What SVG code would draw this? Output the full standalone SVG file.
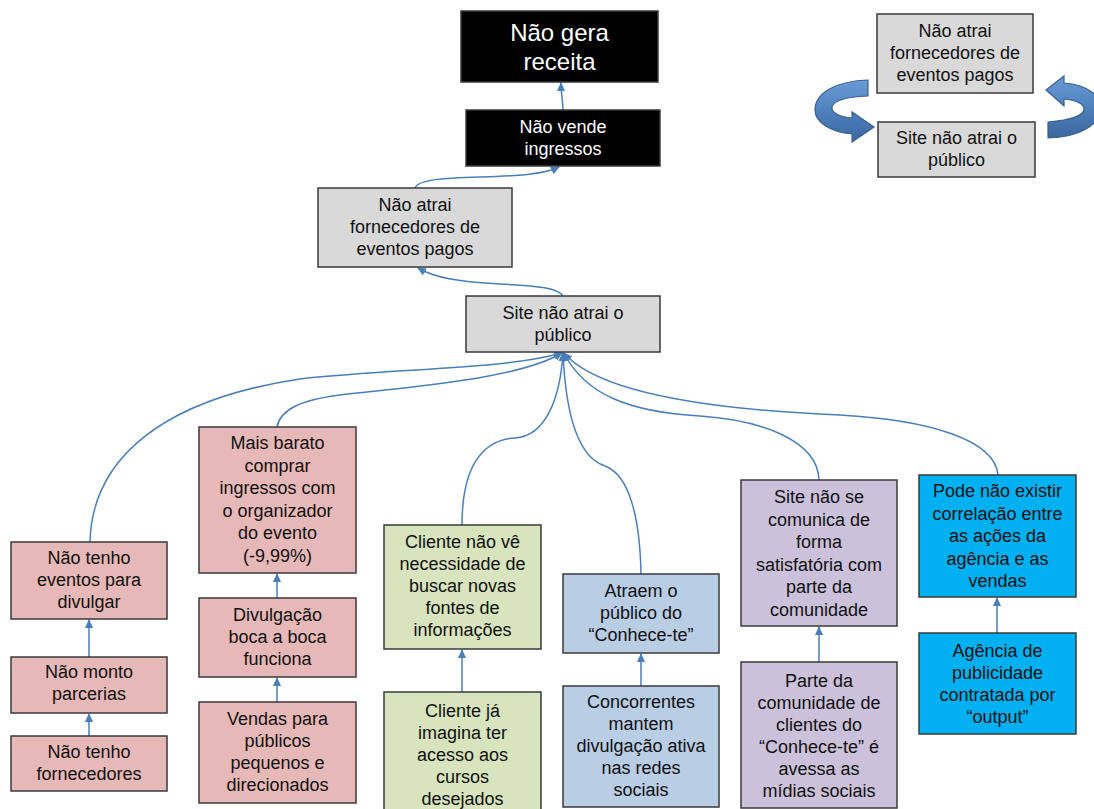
<svg xmlns="http://www.w3.org/2000/svg" width="1094" height="809" viewBox="0 0 1094 809">
<style>
.box{stroke:#3a3a3a;stroke-width:1.5}
.blk{fill:#000000}
.gray{fill:#d9d9d9}
.pink{fill:#e6b9b8}
.green{fill:#d7e4bd}
.bluegray{fill:#b9cde5}
.purple{fill:#ccc1da}
.cyan{fill:#00b0f0}
.t{font-family:"Liberation Sans",Arial,sans-serif;font-size:18px;fill:#111111;text-anchor:middle}
.tw{font-family:"Liberation Sans",Arial,sans-serif;font-size:18px;fill:#ffffff;text-anchor:middle}
.tbig{font-family:"Liberation Sans",Arial,sans-serif;font-size:24px;fill:#ffffff;text-anchor:middle}
.con{fill:none;stroke:#4a7ebb;stroke-width:1.5;marker-end:url(#ah)}
.blockarrow{fill:url(#bg);stroke:#3a5f8f;stroke-width:1.2}
</style>
<defs>
<marker id="ah" markerUnits="userSpaceOnUse" markerWidth="10" markerHeight="10" refX="8" refY="5" orient="auto">
<path d="M0,1 L9,5 L0,9 Z" fill="#4a7ebb"/>
</marker>
<linearGradient id="bg" x1="0" y1="0" x2="0" y2="1">
<stop offset="0" stop-color="#6a9bd6"/>
<stop offset="0.5" stop-color="#4f81bd"/>
<stop offset="1" stop-color="#3b679e"/>
</linearGradient>
</defs>
<rect width="1094" height="809" fill="#ffffff"/>

<g id="connectors">
<path class="con" d="M563,110 C563,100 561,95 561,83"/>
<path class="con" d="M415,188 C418,180 440,178 480,177 C520,176 545,174 559,167"/>
<path class="con" d="M563,296 C558,288 540,286 500,284 C460,282 435,278 418,268"/>
<path class="con" d="M90,542 C92,460 160,400 300,379 C400,368 500,370 562,353"/>
<path class="con" d="M277,427 C280,410 300,400 340,395 C420,386 520,378 562,353"/>
<path class="con" d="M462,525 C462,470 480,440 515,438 C545,436 560,400 563,353"/>
<path class="con" d="M641,574 C640,520 630,475 605,466 C580,458 566,420 563,353"/>
<path class="con" d="M819,480 C818,440 760,420 700,416 C630,412 585,395 564,353"/>
<path class="con" d="M998,475 C995,440 930,420 840,415 C720,410 600,395 564,353"/>
<path class="con" d="M89,657 L89,620"/>
<path class="con" d="M89,736 L89,714"/>
<path class="con" d="M277,598 L277,574"/>
<path class="con" d="M277,702 L277,678"/>
<path class="con" d="M462,692 L462,650"/>
<path class="con" d="M641,686 L641,654"/>
<path class="con" d="M819,662 L819,627"/>
<path class="con" d="M997,633 L997,598"/>
</g>

<g id="cycle-arrows">
<path class="blockarrow" d="M868,96 C846,97 832,101 832,108 C832,113 840,117 852,118 L852,112 L874,127 L852,142 L852,134 C830,132 815,122 815,110 C815,93 836,81 868,80 Z"/>
<path class="blockarrow" d="M1048,122 C1072,120 1084,115 1084,109 C1084,104 1076,100 1064,99 L1064,106 L1046,90 L1064,76 L1064,83 C1088,85 1100,95 1100,108 C1100,125 1080,137 1048,138 Z"/>
</g>

<g id="n-nao-gera-receita">
<rect class="box blk" x="461" y="11" width="197" height="71"/>
<text class="tbig"><tspan x="559.5" y="41">Não gera</tspan><tspan x="559.5" y="70">receita</tspan></text>
</g>
<g id="n-nao-vende">
<rect class="box blk" x="466" y="110" width="194" height="56"/>
<text class="tw"><tspan x="563" y="133">Não vende</tspan><tspan x="563" y="155">ingressos</tspan></text>
</g>
<g id="n-nao-atrai">
<rect class="box gray" x="318" y="188" width="194" height="79"/>
<text class="t"><tspan x="415" y="211">Não atrai</tspan><tspan x="415" y="233">fornecedores de</tspan><tspan x="415" y="255">eventos pagos</tspan></text>
</g>
<g id="n-site">
<rect class="box gray" x="466" y="296" width="194" height="56"/>
<text class="t"><tspan x="563" y="319">Site não atrai o</tspan><tspan x="563" y="341">público</tspan></text>
</g>
<g id="n-cycle-atrai">
<rect class="box gray" x="877" y="14" width="156" height="79"/>
<text class="t"><tspan x="955" y="37">Não atrai</tspan><tspan x="955" y="59">fornecedores de</tspan><tspan x="955" y="81">eventos pagos</tspan></text>
</g>
<g id="n-cycle-site">
<rect class="box gray" x="878" y="122" width="157" height="55"/>
<text class="t"><tspan x="956.5" y="144">Site não atrai o</tspan><tspan x="956.5" y="166">público</tspan></text>
</g>

<g id="n-nao-tenho-eventos">
<rect class="box pink" x="11" y="542" width="156" height="77"/>
<text class="t"><tspan x="89" y="564">Não tenho</tspan><tspan x="89" y="586">eventos para</tspan><tspan x="89" y="608">divulgar</tspan></text>
</g>
<g id="n-nao-monto">
<rect class="box pink" x="11" y="657" width="156" height="56"/>
<text class="t"><tspan x="89" y="678">Não monto</tspan><tspan x="89" y="700">parcerias</tspan></text>
</g>
<g id="n-nao-tenho-forn">
<rect class="box pink" x="11" y="736" width="156" height="55"/>
<text class="t"><tspan x="89" y="758">Não tenho</tspan><tspan x="89" y="780">fornecedores</tspan></text>
</g>

<g id="n-mais-barato">
<rect class="box pink" x="199" y="427" width="157" height="146"/>
<text class="t"><tspan x="277.5" y="449">Mais barato</tspan><tspan x="277.5" y="471.5">comprar</tspan><tspan x="277.5" y="494">ingressos com</tspan><tspan x="277.5" y="516.5">o organizador</tspan><tspan x="277.5" y="539">do evento</tspan><tspan x="277.5" y="561.5">(-9,99%)</tspan></text>
</g>
<g id="n-divulgacao">
<rect class="box pink" x="199" y="598" width="157" height="79"/>
<text class="t"><tspan x="277.5" y="621">Divulgação</tspan><tspan x="277.5" y="643">boca a boca</tspan><tspan x="277.5" y="665">funciona</tspan></text>
</g>
<g id="n-vendas">
<rect class="box pink" x="199" y="702" width="157" height="101"/>
<text class="t"><tspan x="277.5" y="725">Vendas para</tspan><tspan x="277.5" y="747">públicos</tspan><tspan x="277.5" y="769">pequenos e</tspan><tspan x="277.5" y="791">direcionados</tspan></text>
</g>

<g id="n-cliente-nao-ve">
<rect class="box green" x="384" y="525" width="157" height="124"/>
<text class="t"><tspan x="462.5" y="548">Cliente não vê</tspan><tspan x="462.5" y="570">necessidade de</tspan><tspan x="462.5" y="592">buscar novas</tspan><tspan x="462.5" y="614">fontes de</tspan><tspan x="462.5" y="636">informações</tspan></text>
</g>
<g id="n-cliente-ja">
<rect class="box green" x="384" y="692" width="157" height="120"/>
<text class="t"><tspan x="462.5" y="717">Cliente já</tspan><tspan x="462.5" y="739">imagina ter</tspan><tspan x="462.5" y="761">acesso aos</tspan><tspan x="462.5" y="783">cursos</tspan><tspan x="462.5" y="805">desejados</tspan></text>
</g>

<g id="n-atraem">
<rect class="box bluegray" x="563" y="574" width="156" height="79"/>
<text class="t"><tspan x="641" y="597">Atraem o</tspan><tspan x="641" y="619">público do</tspan><tspan x="641" y="641">“Conhece-te”</tspan></text>
</g>
<g id="n-concorrentes">
<rect class="box bluegray" x="563" y="686" width="156" height="121"/>
<text class="t"><tspan x="641" y="708">Concorrentes</tspan><tspan x="641" y="730">mantem</tspan><tspan x="641" y="752">divulgação ativa</tspan><tspan x="641" y="774">nas redes</tspan><tspan x="641" y="796">sociais</tspan></text>
</g>

<g id="n-site-comunica">
<rect class="box purple" x="741" y="480" width="156" height="146"/>
<text class="t"><tspan x="819" y="503">Site não se</tspan><tspan x="819" y="525.5">comunica de</tspan><tspan x="819" y="548">forma</tspan><tspan x="819" y="570.5">satisfatória com</tspan><tspan x="819" y="593">parte da</tspan><tspan x="819" y="615.5">comunidade</tspan></text>
</g>
<g id="n-parte-comunidade">
<rect class="box purple" x="741" y="662" width="156" height="146"/>
<text class="t"><tspan x="819" y="687">Parte da</tspan><tspan x="819" y="709">comunidade de</tspan><tspan x="819" y="731">clientes do</tspan><tspan x="819" y="753">“Conhece-te” é</tspan><tspan x="819" y="775">avessa as</tspan><tspan x="819" y="797">mídias sociais</tspan></text>
</g>

<g id="n-pode-nao">
<rect class="box cyan" x="919" y="475" width="157" height="122"/>
<text class="t"><tspan x="997.5" y="497">Pode não existir</tspan><tspan x="997.5" y="519.5">correlação entre</tspan><tspan x="997.5" y="542">as ações da</tspan><tspan x="997.5" y="564.5">agência e as</tspan><tspan x="997.5" y="587">vendas</tspan></text>
</g>
<g id="n-agencia">
<rect class="box cyan" x="919" y="633" width="157" height="101"/>
<text class="t"><tspan x="997.5" y="657">Agência de</tspan><tspan x="997.5" y="679">publicidade</tspan><tspan x="997.5" y="701">contratada por</tspan><tspan x="997.5" y="723">“output”</tspan></text>
</g>
</svg>
